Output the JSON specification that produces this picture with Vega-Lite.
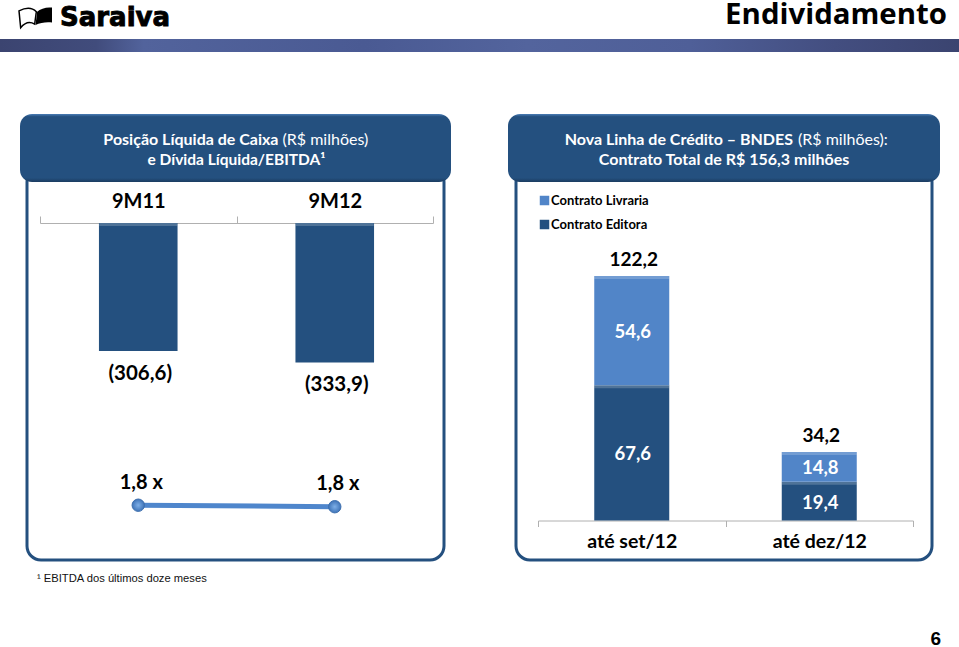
{
"$schema":"https://vega.github.io/schema/vega-lite/v6.json",
"background":"white",
"padding":0,
"spacing":0,
"config":{"view":{"stroke":null},"font":"Lato"},
"vconcat":[
{"width":959,"height":39,"resolve":{"scale":{"x":"independent","y":"independent"}},
 "layer":[
 {"data":{"values":[{"item":"livro"}]},"mark":{"type":"point","filled":true,"fill":"white","stroke":"black","strokeWidth":1.5,"size":1089,"opacity":1,"shape":"M-1 -0.4 C-0.6 -0.6 -0.2 -0.6 0.05 -0.35 L-0.05 0.4 C-0.3 0.25 -0.6 0.25 -0.9 0.62 Z"},
  "encoding":{"x":{"field":"item","type":"nominal","axis":null,"scale":{"type":"point","domain":["livro"],"range":[35.5,35.5]}},"y":{"field":"item","type":"nominal","axis":null,"scale":{"type":"point","domain":["livro"],"range":[17.5,17.5]}}}},
 {"data":{"values":[{"item":"livro"}]},"mark":{"type":"point","filled":true,"fill":"black","stroke":null,"size":1089,"opacity":1,"shape":"M0.1 -0.35 C0.3 -0.55 0.7 -0.65 1 -0.6 L1 0.3 C0.7 0.25 0.3 0.3 0 0.45 Z"},
  "encoding":{"x":{"field":"item","type":"nominal","axis":null,"scale":{"type":"point","domain":["livro"],"range":[35.5,35.5]}},"y":{"field":"item","type":"nominal","axis":null,"scale":{"type":"point","domain":["livro"],"range":[17.5,17.5]}}}},
 {"data":{"values":[{"item":"Saraiva"}]},"mark":{"type":"text","align":"left","font":"DejaVu Sans","fontWeight":"bold","fontSize":26,"fill":"black","stroke":"black","strokeWidth":0.9},
  "encoding":{"text":{"field":"item"},"x":{"field":"item","type":"nominal","axis":null,"scale":{"type":"point","domain":["Saraiva"],"range":[60,60]}},"y":{"field":"item","type":"nominal","axis":null,"scale":{"type":"point","domain":["Saraiva"],"range":[18,18]}}}},
 {"data":{"values":[{"item":"Endividamento"}]},"mark":{"type":"text","align":"right","font":"Open Sans","fontWeight":"bold","fontSize":29.4,"fill":"black"},
  "encoding":{"text":{"field":"item"},"x":{"field":"item","type":"nominal","axis":null,"scale":{"type":"point","domain":["Endividamento"],"range":[947,947]}},"y":{"field":"item","type":"nominal","axis":null,"scale":{"type":"point","domain":["Endividamento"],"range":[15,15]}}}}
 ]},
{"width":959,"height":13,"data":{"values":[{}]},"mark":{"type":"rect","fill":{"gradient":"linear","x1":0,"x2":1,"y1":0,"y2":0,"stops":[{"offset":0,"color":"#3b4470"},{"offset":0.1,"color":"#414c7c"},{"offset":0.15,"color":"#52639c"},{"offset":0.38,"color":"#4a5a93"},{"offset":0.55,"color":"#53649d"},{"offset":0.72,"color":"#4f5f98"},{"offset":0.87,"color":"#434e80"},{"offset":1,"color":"#3b4470"}]}},"encoding":{}},
{"width":959,"height":60,"data":{"values":[]},"mark":"text","encoding":{}},
{"spacing":0,"hconcat":[
 {"width":18,"height":1,"data":{"values":[]},"mark":"text","encoding":{}},
 {"width":417,"height":392,"view":{"stroke":"#24507f","strokeWidth":3,"cornerRadius":14},
  "resolve":{"scale":{"x":"independent","y":"independent"}},
  "layer":[
  {"data":{"values":[{"periodo":"9M11","caixa":-306.6,"rotulo":"(306,6)"},{"periodo":"9M12","caixa":-333.9,"rotulo":"(333,9)"}]},
   "encoding":{"x":{"field":"periodo","type":"nominal","title":null,"scale":{"type":"band","domain":["9M11","9M12"],"range":[13,406],"paddingInner":0,"paddingOuter":0},"axis":{"orient":"top","offset":-55,"tickBand":"extent","tickColor":"#b0b0b0","domainColor":"#b0b0b0","tickSize":7,"labelAngle":0,"labelFont":"Lato","labelFontWeight":"bold","labelFontSize":20,"labelColor":"black","labelPadding":5,"grid":false}}},
   "layer":[
   {"mark":{"type":"bar","width":{"band":0.4},"fill":"#24507f"},"encoding":{"y":{"field":"caixa","type":"quantitative","stack":null,"axis":null,"scale":{"domain":[-807.2,131.7],"nice":false,"zero":false}}}},
   {"mark":{"type":"tick","orient":"horizontal","size":78,"thickness":3,"color":"white","opacity":0.2,"yOffset":1.5},"encoding":{"y":{"datum":0,"type":"quantitative","axis":null,"scale":{"domain":[-807.2,131.7],"nice":false,"zero":false}}}},
   {"mark":{"type":"text","dy":23,"dx":2,"font":"Lato","fontWeight":"bold","fontSize":20.5,"fill":"black"},"encoding":{"y":{"field":"caixa","type":"quantitative","axis":null,"scale":{"domain":[-807.2,131.7],"nice":false,"zero":false}},"text":{"field":"rotulo"}}}
   ]},
  {"data":{"values":[{"periodo":"9M11","divida":1.825,"multiplo":"1,8 x"},{"periodo":"9M12","divida":1.775,"multiplo":"1,8 x"}]},
   "encoding":{"x":{"field":"periodo","type":"nominal","axis":null,"scale":{"type":"band","domain":["9M11","9M12"],"range":[13,406],"paddingInner":0,"paddingOuter":0}},"y":{"field":"divida","type":"quantitative","axis":null,"scale":{"domain":[0,13.06],"nice":false,"zero":false}}},
   "layer":[
   {"mark":{"type":"line","color":"#4f86cc","strokeWidth":5}},
   {"mark":{"type":"point","filled":true,"fill":{"gradient":"radial","stops":[{"offset":0,"color":"#7fb0e8"},{"offset":1,"color":"#3f74b8"}]},"stroke":"#3d6fae","strokeWidth":1,"opacity":1,"size":154}},
   {"mark":{"type":"text","dy":-22.5,"dx":3,"font":"Lato","fontWeight":"bold","fontSize":20,"fill":"black"},"encoding":{"text":{"field":"multiplo"}}}
   ]},
  {"data":{"values":[{"painel":"posição"}]},"mark":{"type":"rect","cornerRadius":12,"fill":{"gradient":"linear","x1":0,"x2":0,"y1":0,"y2":1,"stops":[{"offset":0,"color":"#4b7db5"},{"offset":0.04,"color":"#24507f"},{"offset":0.94,"color":"#24507f"},{"offset":1,"color":"#1b3c60"}]}},
   "encoding":{"x":{"field":"painel","type":"nominal","axis":null,"scale":{"type":"band","range":[-7,424],"paddingInner":0,"paddingOuter":0}},"y":{"field":"painel","type":"nominal","axis":null,"scale":{"type":"band","range":[-54,14],"paddingInner":0,"paddingOuter":0}}}},
  {"data":{"values":[{"linha":"1","t":"Posição Líquida de Caixa"}]},"mark":{"type":"text","align":"right","dx":43,"font":"Lato","fontWeight":"bold","fontSize":16,"fill":"white"},"encoding":{"text":{"field":"t"},"y":{"field":"linha","type":"nominal","axis":null,"scale":{"type":"point","domain":["1","2"],"range":[-28,-8],"padding":0}}}},
  {"data":{"values":[{"linha":"1","t":"(R$ milhões)"}]},"mark":{"type":"text","align":"left","dx":47,"font":"Lato","fontSize":16,"fill":"white"},"encoding":{"text":{"field":"t"},"y":{"field":"linha","type":"nominal","axis":null,"scale":{"type":"point","domain":["1","2"],"range":[-28,-8],"padding":0}}}},
  {"data":{"values":[{"linha":"2","t":"e Dívida Líquida/EBITDA¹"}]},"mark":{"type":"text","dx":1,"font":"Lato","fontWeight":"bold","fontSize":15.5,"fill":"white"},"encoding":{"text":{"field":"t"},"y":{"field":"linha","type":"nominal","axis":null,"scale":{"type":"point","domain":["1","2"],"range":[-28,-8],"padding":0}}}}
  ]},
 {"width":53,"height":1,"data":{"values":[]},"mark":"text","encoding":{}},
 {"width":416,"height":392,"view":{"stroke":"#24507f","strokeWidth":3,"cornerRadius":14},
  "resolve":{"scale":{"x":"independent","y":"independent"}},
  "layer":[
  {"data":{"values":[
    {"periodo":"até set/12","serie":"Contrato Editora","valor":67.6,"rotulo":"67,6"},
    {"periodo":"até set/12","serie":"Contrato Livraria","valor":54.6,"rotulo":"54,6"},
    {"periodo":"até dez/12","serie":"Contrato Editora","valor":19.4,"rotulo":"19,4"},
    {"periodo":"até dez/12","serie":"Contrato Livraria","valor":14.8,"rotulo":"14,8"}]},
   "transform":[{"stack":"valor","groupby":["periodo"],"sort":[{"field":"serie","order":"ascending"}],"as":["y0","y1"]}],
   "encoding":{"x":{"field":"periodo","type":"nominal","title":null,"scale":{"type":"band","domain":["até set/12","até dez/12"],"range":[22,397],"paddingInner":0,"paddingOuter":0},"axis":{"orient":"bottom","offset":-39.5,"tickBand":"extent","tickColor":"#b0b0b0","domainColor":"#b0b0b0","tickSize":6,"labelAngle":0,"labelFont":"Lato","labelFontWeight":"bold","labelFontSize":19.5,"labelColor":"black","labelPadding":6,"grid":false}}},
   "layer":[
   {"mark":{"type":"bar","width":{"band":0.4}},"encoding":{"y":{"field":"y0","type":"quantitative","axis":null,"scale":{"domain":[-19.75,176.25],"nice":false,"zero":false}},"y2":{"field":"y1"},
     "color":{"field":"serie","type":"nominal","scale":{"domain":["Contrato Livraria","Contrato Editora"],"range":["#5185c8","#24507f"]},"legend":{"title":null,"orient":"none","legendX":538,"legendY":194,"symbolType":"square","symbolSize":90,"symbolStrokeWidth":0,"labelFont":"Lato","labelFontSize":13,"labelFontWeight":"bold","labelColor":"black","rowPadding":10,"labelOffset":0}}}},
   {"mark":{"type":"tick","orient":"horizontal","size":75,"thickness":3,"color":"white","opacity":0.2,"yOffset":1.5},"encoding":{"y":{"field":"y1","type":"quantitative","axis":null,"scale":{"domain":[-19.75,176.25],"nice":false,"zero":false}}}},
   {"transform":[{"fold":["y0","y1"],"as":["borda","pos"]}],"mark":{"type":"text","dx":1,"dy":1.5,"font":"Lato","fontWeight":"bold","fontSize":18.5,"fill":"white"},"encoding":{"y":{"aggregate":"mean","field":"pos","type":"quantitative","axis":null,"scale":{"domain":[-19.75,176.25],"nice":false,"zero":false}},"text":{"field":"rotulo","type":"nominal"}}}
   ]},
  {"data":{"values":[{"periodo":"até set/12","total":122.2,"rotulo":"122,2"},{"periodo":"até dez/12","total":34.2,"rotulo":"34,2"}]},"mark":{"type":"text","dy":-16,"dx":2,"font":"Lato","fontWeight":"bold","fontSize":19,"fill":"black"},"encoding":{"x":{"field":"periodo","type":"nominal","axis":null,"scale":{"type":"band","domain":["até set/12","até dez/12"],"range":[22,397],"paddingInner":0,"paddingOuter":0}},"y":{"field":"total","type":"quantitative","axis":null,"scale":{"domain":[-19.75,176.25],"nice":false,"zero":false}},"text":{"field":"rotulo"}}},
  {"data":{"values":[{"painel":"bndes"}]},"mark":{"type":"rect","cornerRadius":12,"fill":{"gradient":"linear","x1":0,"x2":0,"y1":0,"y2":1,"stops":[{"offset":0,"color":"#4b7db5"},{"offset":0.04,"color":"#24507f"},{"offset":0.94,"color":"#24507f"},{"offset":1,"color":"#1b3c60"}]}},
   "encoding":{"x":{"field":"painel","type":"nominal","axis":null,"scale":{"type":"band","range":[-8,424],"paddingInner":0,"paddingOuter":0}},"y":{"field":"painel","type":"nominal","axis":null,"scale":{"type":"band","range":[-54,14],"paddingInner":0,"paddingOuter":0}}}},
  {"data":{"values":[{"linha":"1","t":"Nova Linha de Crédito – BNDES"}]},"mark":{"type":"text","align":"right","dx":69,"font":"Lato","fontWeight":"bold","fontSize":16,"fill":"white"},"encoding":{"text":{"field":"t"},"y":{"field":"linha","type":"nominal","axis":null,"scale":{"type":"point","domain":["1","2"],"range":[-28,-8],"padding":0}}}},
  {"data":{"values":[{"linha":"1","t":"(R$ milhões):"}]},"mark":{"type":"text","align":"left","dx":74,"font":"Lato","fontSize":16,"fill":"white"},"encoding":{"text":{"field":"t"},"y":{"field":"linha","type":"nominal","axis":null,"scale":{"type":"point","domain":["1","2"],"range":[-28,-8],"padding":0}}}},
  {"data":{"values":[{"linha":"2","t":"Contrato Total de R$ 156,3 milhões"}]},"mark":{"type":"text","font":"Lato","fontWeight":"bold","fontSize":16,"fill":"white"},"encoding":{"text":{"field":"t"},"y":{"field":"linha","type":"nominal","axis":null,"scale":{"type":"point","domain":["1","2"],"range":[-28,-8],"padding":0}}}}
  ]}
]},
{"width":959,"height":86,"resolve":{"scale":{"x":"independent","y":"independent"}},
 "layer":[
 {"data":{"values":[{"item":"¹ EBITDA dos últimos doze meses"}]},"mark":{"type":"text","align":"left","font":"Liberation Sans","fontSize":11.2,"fill":"#111"},
  "encoding":{"text":{"field":"item"},"x":{"field":"item","type":"nominal","axis":null,"scale":{"type":"point","range":[37,37]}},"y":{"field":"item","type":"nominal","axis":null,"scale":{"type":"point","range":[17,17]}}}},
 {"data":{"values":[{"item":"6"}]},"mark":{"type":"text","align":"right","font":"Liberation Sans","fontWeight":"bold","fontSize":19,"fill":"black"},
  "encoding":{"text":{"field":"item"},"x":{"field":"item","type":"nominal","axis":null,"scale":{"type":"point","range":[941,941]}},"y":{"field":"item","type":"nominal","axis":null,"scale":{"type":"point","range":[77,77]}}}}
 ]}
]
}
